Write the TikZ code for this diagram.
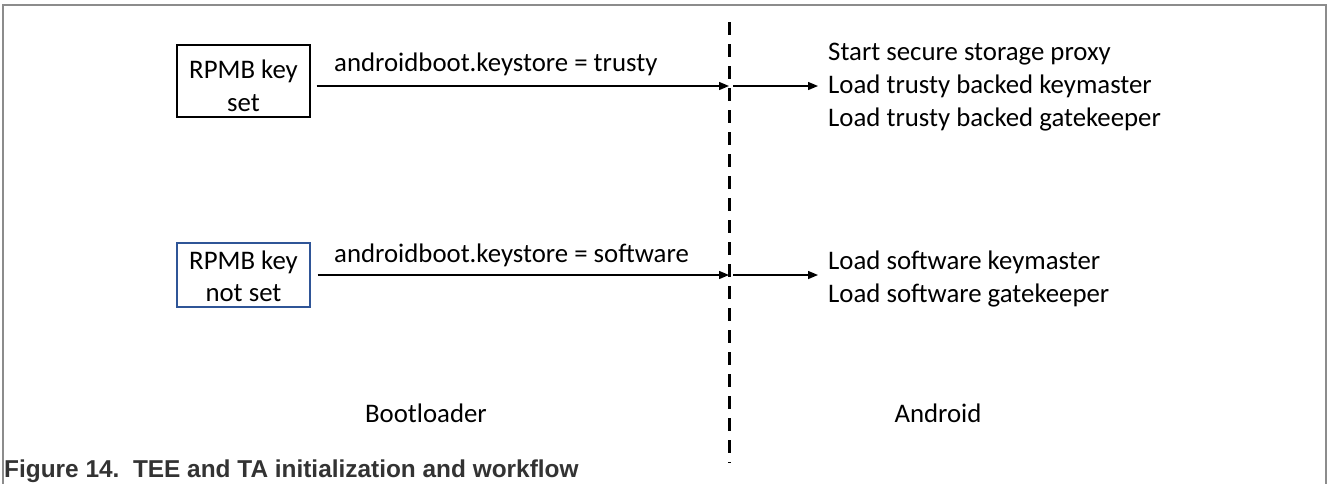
\documentclass[tikz,border=0pt]{standalone}
\usepackage{fontspec}
\setmainfont{Carlito}
\newfontfamily\capfont{Liberation Sans}
\usetikzlibrary{arrows.meta}
\definecolor{framegray}{HTML}{8C8C8C}
\definecolor{boxblue}{HTML}{2F5597}
\definecolor{capgray}{HTML}{333333}
\tikzset{
  body/.style={font=\fontsize{26.8}{33}\selectfont, inner sep=0pt},
  keybox/.style={draw, line width=1.3pt, minimum width=133pt, inner sep=0pt},
  boxtext/.style={align=center, inner sep=0pt, font=\fontsize{26.8}{32.5}\selectfont},
  flow/.style={line width=1.4pt, -{Triangle[length=10pt,width=8pt]}},
  divider/.style={line width=3pt, dash pattern=on 13pt off 9pt},
}
\begin{document}
\begin{tikzpicture}[x=1pt,y=-1pt]
\useasboundingbox (0,0) rectangle (1328,483);
\fill[white] (0,0) rectangle (1328,483);
% frame
\draw[framegray, line width=1.5pt] (3,484) -- (3,5) -- (1326,5) -- (1326,484);
% divider
\coordinate (dtop) at (729,22);
\coordinate (dbot) at (729,463);
\draw[divider] (dtop) -- (dbot);
% boxes
\node[keybox, minimum height=72pt] (k1) at (243.5,81) {};
\node[boxtext] (k1t) at (243.5,86) {RPMB key\\set};
\node[keybox, draw=boxblue, minimum height=64pt] (k2) at (243.5,275) {};
\node[boxtext] (k2t) at (243.5,276.5) {RPMB key\\not set};
% crossing points on divider
\coordinate (c1) at (729,86);
\coordinate (c2) at (729,275);
% right texts
\node[body, anchor=west, align=left] (r1) at (828,87) {Start secure storage proxy\\Load trusty backed keymaster\\Load trusty backed gatekeeper};
\node[body, anchor=west, align=left] (r2) at (828,278.5) {Load software keymaster\\Load software gatekeeper};
% arrows
\draw[flow] (k1.east |- c1) ++(6,0) coordinate (s1) -- (c1);
\draw[flow] (c1) ++(4,0) coordinate (t1) -- ([xshift=-10pt]r1.west |- c1);
\draw[flow] (k2.east |- c2) ++(7,0) coordinate (s2) -- (c2);
\draw[flow] (c2) ++(4,0) coordinate (t2) -- ([xshift=-10pt]r2.west |- c2);
% labels
\node[body, anchor=west] (l1) at (334,64) {androidboot.keystore = trusty};
\node[body, anchor=west] (l2) at (334,255) {androidboot.keystore = software};
% section labels
\node[body] (boot) at (426,413) {Bootloader};
\node[body] (andr) at (938,413) {Android};
% caption
\node[anchor=base west, inner sep=0pt, text=capgray, font=\capfont\bfseries\fontsize{24.4}{28}\selectfont] (cap) at (4,477.5) {Figure 14.\ \ TEE and TA initialization and workflow};
\end{tikzpicture}
\end{document}
